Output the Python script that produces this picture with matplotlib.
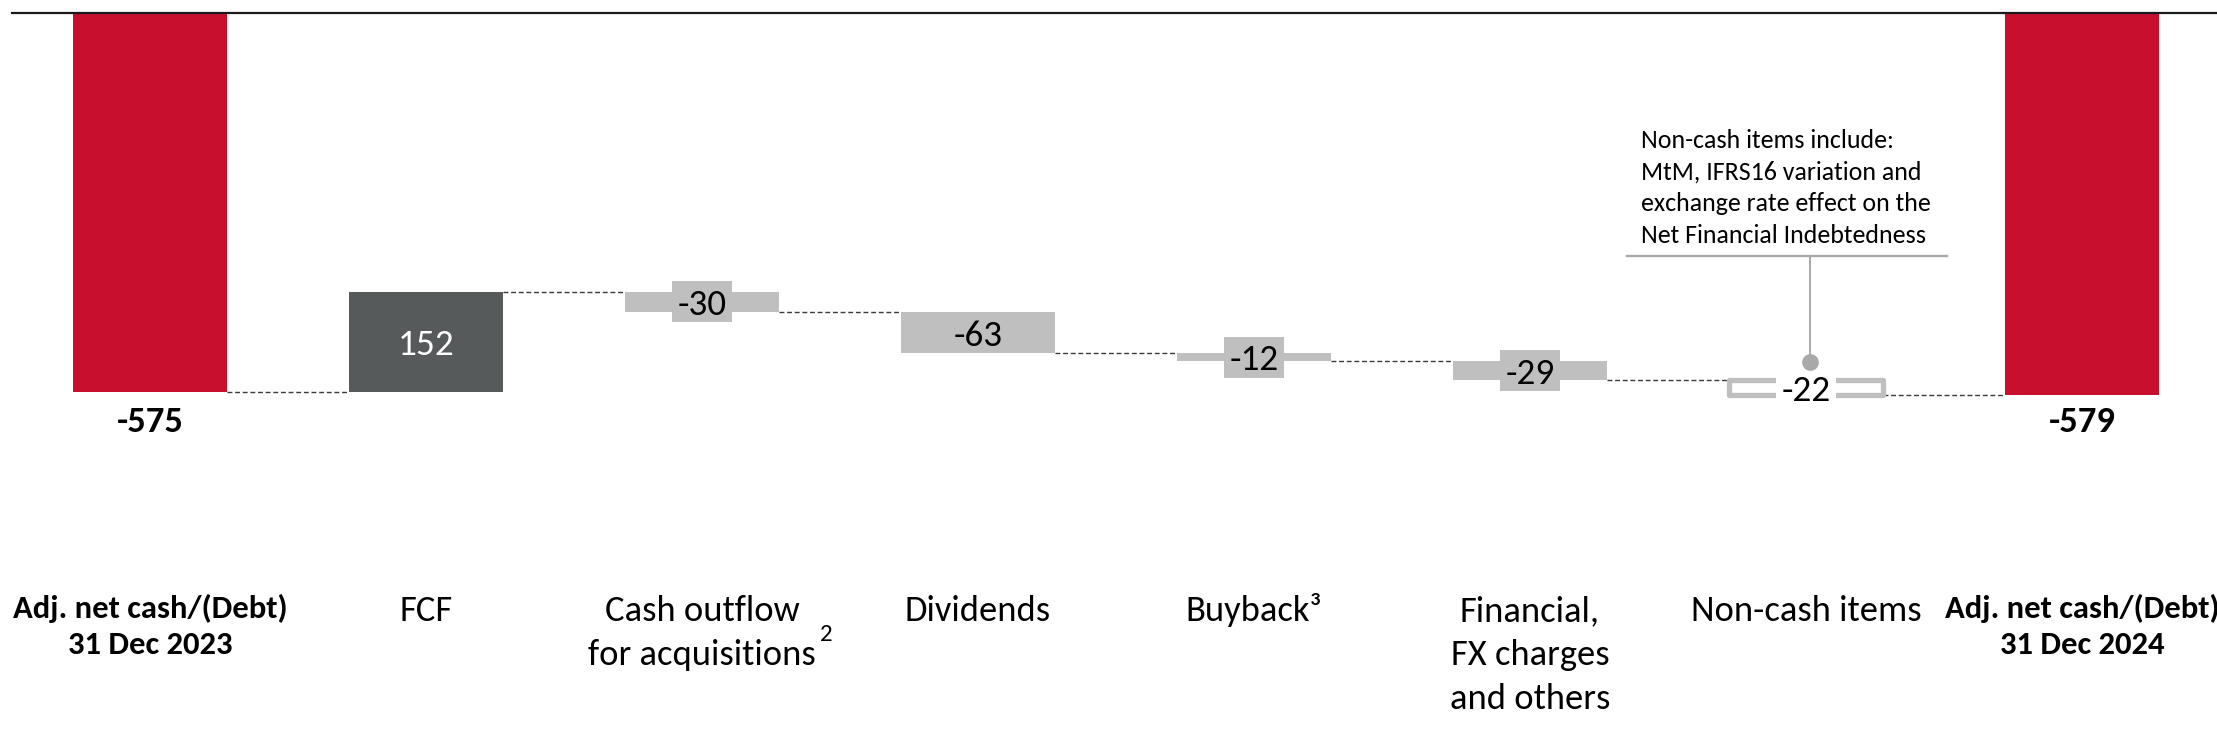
import matplotlib
matplotlib.use("Agg")
import matplotlib.pyplot as plt
import matplotlib.font_manager as fm
from matplotlib.patches import Rectangle

# ── data ──
categories = [
    "Adj. net cash/(Debt)\n31 Dec 2023",
    "FCF",
    "Cash outflow\nfor acquisitions",
    "Dividends",
    "Buyback³",
    "Financial,\nFX charges\nand others",
    "Non-cash items",
    "Adj. net cash/(Debt)\n31 Dec 2024",
]
values = [-575, 152, -30, -63, -12, -29, -22, -579]
kinds = ["total", "up", "down", "down", "down", "down", "noncash", "total"]
footnote_acq = "2"
note_lines = [
    "Non-cash items include:",
    "MtM, IFRS16 variation and",
    "exchange rate effect on the",
    "Net Financial Indebtedness",
]

RED = "#C8102E"
DARK = "#565A5B"
GREY = "#BFBFBF"
NOTE_GREY = "#A9A9A9"

# ── font: Calibri look-alike if present ──
CAP_RATIO = {"Carlito": 0.644, "Lato": 0.717, "Open Sans": 0.714, "DejaVu Sans": 0.729}
available = {f.name for f in fm.fontManager.ttflist}
FONT = next((f for f in ["Carlito", "Lato", "Open Sans"] if f in available), "DejaVu Sans")
plt.rcParams["font.family"] = [FONT, "DejaVu Sans"]


def fs(cap_px):
    # font size (pt at 100 dpi) giving a given cap height in pixels
    return cap_px / CAP_RATIO[FONT] * 0.72


W, H = 2217, 745
fig = plt.figure(figsize=(W / 100, H / 100), dpi=100)
ax = fig.add_axes([0, 0, 1, 1])
ax.axis("off")

X0, DX = 150.0, 276.0  # pixel centre of first bar, pixel spacing
Y0, SY = 13.3, 0.659   # pixel row of zero line, pixels per unit
ax.set_xlim(-X0 / DX, (W - X0) / DX)
ax.set_ylim(-(H - Y0) / SY, Y0 / SY)


def yrow(px):
    return (Y0 - px) / SY


def xcol(px):
    return (px - X0) / DX


bw = 154 / DX
x = list(range(len(values)))

# ── waterfall geometry ──
bottoms, heights, levels = [], [], []
run = 0
for v, k in zip(values, kinds):
    if k == "total":
        bottoms.append(0)
        heights.append(v)
        run = v
    else:
        bottoms.append(run)
        heights.append(v)
        run += v
    levels.append(run)

colors = {"total": RED, "up": DARK, "down": GREY, "noncash": "white"}
for i, k in enumerate(kinds):
    if k == "noncash":
        ax.bar(x[i], heights[i], bottom=bottoms[i], width=bw, facecolor="white",
               edgecolor=GREY, linewidth=3.8, joinstyle="round", zorder=2)
    else:
        ax.bar(x[i], heights[i], bottom=bottoms[i], width=bw, color=colors[k],
               linewidth=0, zorder=2)

# connectors
for i in range(len(values) - 1):
    ax.plot([x[i] + bw / 2, x[i + 1] - bw / 2], [levels[i], levels[i]],
            color="#3a3a3a", lw=1.0, ls=(0, (3.5, 2)), zorder=1)

# zero line
ax.axhline(0, xmin=11.7 / W, xmax=1, color="#1a1a1a", lw=1.6, zorder=5)

# value labels
box_w, box_h = 60 / DX, 41 / SY
for i, (v, k) in enumerate(zip(values, kinds)):
    if k == "total":
        ax.text(x[i], yrow(432), f"{v}", ha="center", va="baseline",
                fontsize=fs(23.5), fontweight="bold", color="black")
        continue
    mid = bottoms[i] + heights[i] / 2
    if k in ("down", "noncash"):
        ax.add_patch(Rectangle((x[i] - box_w / 2, mid - box_h / 2), box_w, box_h,
                               facecolor=GREY if k == "down" else "white",
                               edgecolor="none", zorder=3))
    ax.text(x[i], mid, f"{v}", ha="center", va="center_baseline",
            fontsize=fs(24), color="white" if k == "up" else "black", zorder=4)

# category labels
for i, (cat, k) in enumerate(zip(categories, kinds)):
    bold = k == "total"
    first, step = (618, 36) if bold else (621, 44)
    for j, line in enumerate(cat.split("\n")):
        ax.text(x[i], yrow(first + j * step), line, ha="center", va="baseline",
                fontsize=fs(21 if bold else 23.5),
                fontweight="bold" if bold else "normal", color="black")

ax.text(x[2] + xcol(826) - xcol(702), yrow(641), footnote_acq, ha="center",
        va="baseline", fontsize=fs(16), color="black")

# non-cash note with leader line
nc = kinds.index("noncash")
top_nc = bottoms[nc]
ax.plot([x[nc] + 0.015, x[nc] + 0.015], [yrow(256), top_nc + 28], color=NOTE_GREY,
        lw=1.4, zorder=3)
ax.plot([x[nc] + 0.015], [top_nc + 28], "o", color=NOTE_GREY, ms=11, zorder=3)
ax.plot([xcol(1627), xcol(1947)], [yrow(256), yrow(256)], color=NOTE_GREY,
        lw=1.7, zorder=3)
for j, line in enumerate(note_lines):
    ax.text(xcol(1641), yrow(148 + j * 31.7), line, ha="left", va="baseline",
            fontsize=fs(16.7), color="black")

fig.savefig("out.png", dpi=100)
